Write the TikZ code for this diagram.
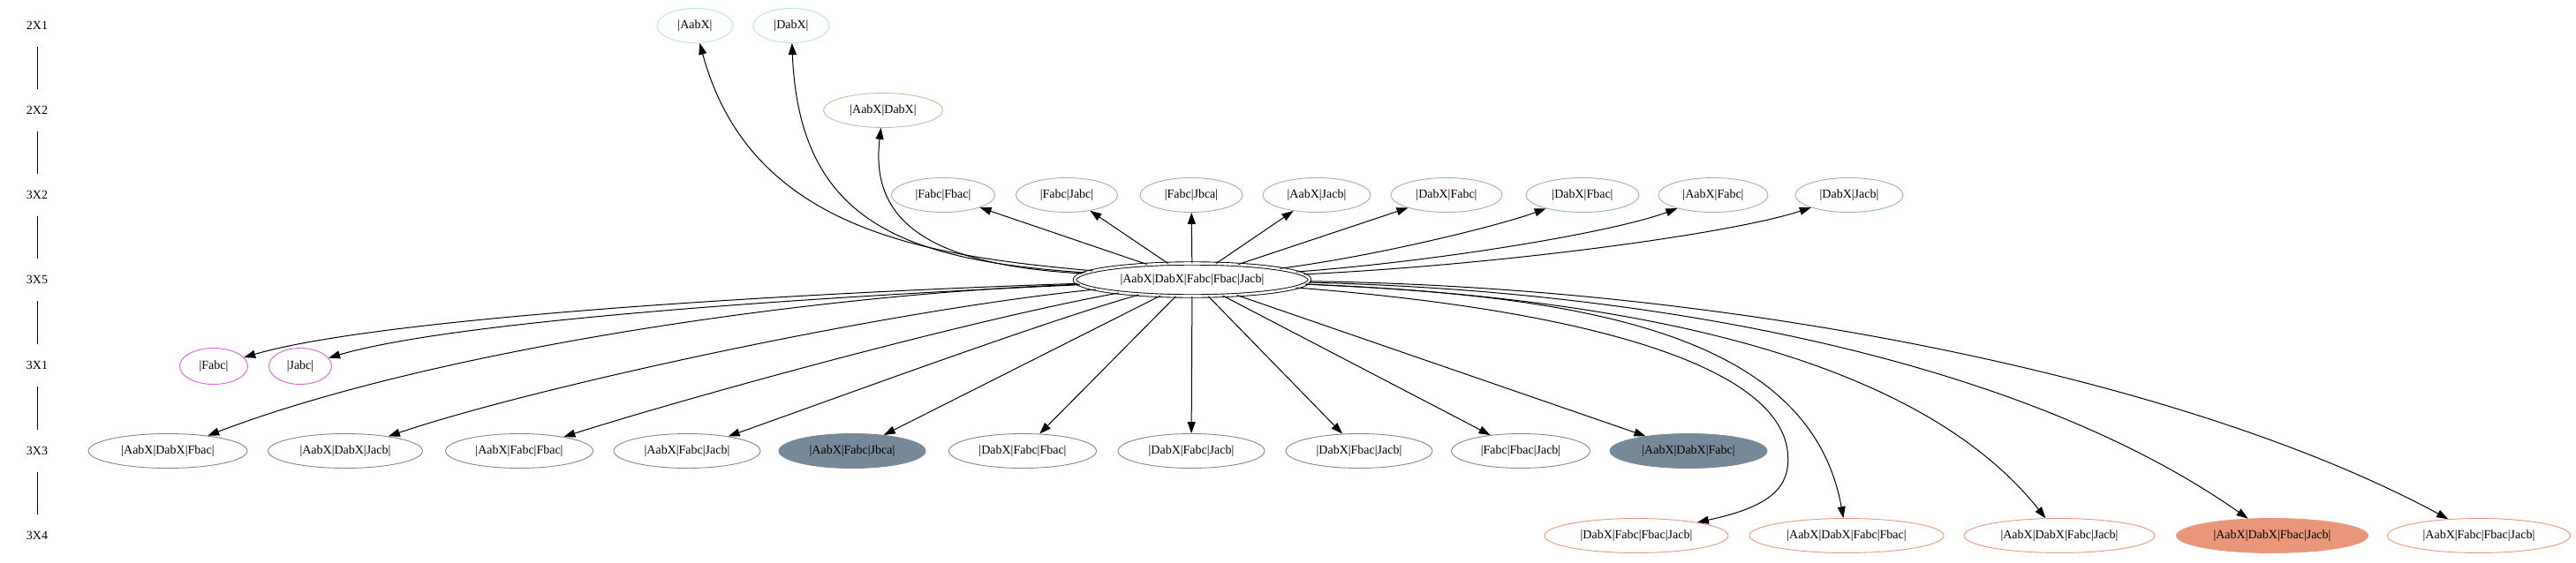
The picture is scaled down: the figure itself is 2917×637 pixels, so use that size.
\documentclass[tikz,border=0pt]{standalone}
\usepackage{fontspec}
\setmainfont{Liberation Serif}
\usetikzlibrary{shapes.geometric,arrows.meta}
\definecolor{cyanb}{HTML}{B4E2E8}
\definecolor{tanb}{HTML}{CDB79E}
\definecolor{greenb}{HTML}{8FBC8F}
\definecolor{magb}{HTML}{DA5FDA}
\definecolor{slateb}{HTML}{778899}
\definecolor{salmonb}{HTML}{E9967A}
\tikzset{
  txt/.style={font=\fontsize{14}{16}\selectfont},
  lbl/.style={txt, inner sep=0pt, minimum height=48pt},
  st/.style={txt, ellipse, draw, line width=0.9pt, inner sep=0pt, minimum height=39pt},
  cy/.style={st, draw=cyanb},
  tn/.style={st, draw=tanb},
  gr/.style={st, draw=greenb},
  mg/.style={st, draw=magb, minimum height=41pt},
  sl/.style={st, draw=slateb},
  slf/.style={st, draw=slateb, fill=slateb},
  sa/.style={st, draw=salmonb},
  saf/.style={st, draw=salmonb, fill=salmonb},
  ctr/.style={txt, ellipse, draw=black, line width=0.9pt, double, double distance=2.6pt, inner sep=0pt, minimum width=266pt, minimum height=37pt},
  arr/.style={draw=black, line width=1pt, -{Triangle[length=13pt,width=9pt]}},
  rankline/.style={draw=black, line width=1pt}
}
\begin{document}
\begin{tikzpicture}[x=1pt,y=-1pt]
\useasboundingbox (0,0) rectangle (2917,637);
% rank labels
\node[lbl] (L1) at (42,29) {2X1};
\node[lbl] (L2) at (42,125) {2X2};
\node[lbl] (L3) at (42,221) {3X2};
\node[lbl] (L4) at (42,317) {3X5};
\node[lbl] (L5) at (42,414) {3X1};
\node[lbl] (L6) at (42,511) {3X3};
\node[lbl] (L7) at (42,607) {3X4};
\draw[rankline] (L1) -- (L2);
\draw[rankline] (L2) -- (L3);
\draw[rankline] (L3) -- (L4);
\draw[rankline] (L4) -- (L5);
\draw[rankline] (L5) -- (L6);
\draw[rankline] (L6) -- (L7);
% 2X1
\node[cy, minimum width=86pt] (a1) at (787,29) {|AabX|};
\node[cy, minimum width=86pt] (a2) at (896,29) {|DabX|};
% 2X2
\node[tn, minimum width=135pt] (b1) at (1000,125) {|AabX|DabX|};
% 3X2
\node[gr, minimum width=117pt] (g1) at (1068,221) {|Fabc|Fbac|};
\node[gr, minimum width=115pt] (g2) at (1208,221) {|Fabc|Jabc|};
\node[gr, minimum width=116pt] (g3) at (1349,221) {|Fabc|Jbca|};
\node[gr, minimum width=122pt] (g4) at (1491,221) {|AabX|Jacb|};
\node[gr, minimum width=126pt] (g5) at (1638,221) {|DabX|Fabc|};
\node[gr, minimum width=128pt] (g6) at (1792,221) {|DabX|Fbac|};
\node[gr, minimum width=124pt] (g7) at (1940,221) {|AabX|Fabc|};
\node[gr, minimum width=122pt] (g8) at (2094,221) {|DabX|Jacb|};
% 3X5
\node[ctr] (C) at (1350,317) {|AabX|DabX|Fabc|Fbac|Jacb|};
% 3X1
\node[mg, minimum width=77pt] (m1) at (242,415) {|Fabc|};
\node[mg, minimum width=71pt] (m2) at (340,415) {|Jabc|};
% 3X3
\node[sl, minimum width=180pt] (s1) at (190,511) {|AabX|DabX|Fbac|};
\node[sl, minimum width=175pt] (s2) at (391,511) {|AabX|DabX|Jacb|};
\node[sl, minimum width=167pt] (s3) at (588,511) {|AabX|Fabc|Fbac|};
\node[sl, minimum width=166pt] (s4) at (778,511) {|AabX|Fabc|Jacb|};
\node[slf, minimum width=166pt] (s5) at (965,511) {|AabX|Fabc|Jbca|};
\node[sl, minimum width=167pt] (s6) at (1158,511) {|DabX|Fabc|Fbac|};
\node[sl, minimum width=166pt] (s7) at (1349,511) {|DabX|Fabc|Jacb|};
\node[sl, minimum width=166pt] (s8) at (1539,511) {|DabX|Fbac|Jacb|};
\node[sl, minimum width=157pt] (s9) at (1722,511) {|Fabc|Fbac|Jacb|};
\node[slf, minimum width=178pt] (s10) at (1912,511) {|AabX|DabX|Fabc|};
% 3X4
\node[sa, minimum width=208pt] (o1) at (1853,607) {|DabX|Fabc|Fbac|Jacb|};
\node[sa, minimum width=220pt] (o2) at (2091,607) {|AabX|DabX|Fabc|Fbac|};
\node[sa, minimum width=216pt] (o3) at (2332,607) {|AabX|DabX|Fabc|Jacb|};
\node[saf, minimum width=217pt] (o4) at (2573,607) {|AabX|DabX|Fbac|Jacb|};
\node[sa, minimum width=207pt] (o5) at (2807,607) {|AabX|Fabc|Fbac|Jacb|};
% edges up
\draw[arr] (C) .. controls (1050,290) and (850,262) .. (a1);
\draw[arr] (C) .. controls (1020,295) and (905,250) .. (a2);
\draw[arr] (C) .. controls (1050,300) and (985,250) .. (b1);
\draw[arr] (C) -- (g1);
\draw[arr] (C) -- (g2);
\draw[arr] (C) -- (g3);
\draw[arr] (C) -- (g4);
\draw[arr] (C) -- (g5);
\draw[arr] (C) .. controls (1560,290) and (1700,255) .. (g6);
\draw[arr] (C) .. controls (1640,295) and (1830,262) .. (g7);
\draw[arr] (C) .. controls (1700,300) and (1960,265) .. (g8);
% edges to 3X1
\draw[arr] (C) .. controls (900,332) and (430,360) .. (m1);
\draw[arr] (C) .. controls (950,335) and (520,362) .. (m2);
% edges to 3X3
\draw[arr] (C) .. controls (900,335) and (480,400) .. (s1);
\draw[arr] (C) .. controls (1000,352) and (600,440) .. (s2);
\draw[arr] (C) .. controls (1100,362) and (780,450) .. (s3);
\draw[arr] (C) .. controls (1180,365) and (950,450) .. (s4);
\draw[arr] (C) -- (s5);
\draw[arr] (C) -- (s6);
\draw[arr] (C) -- (s7);
\draw[arr] (C) -- (s8);
\draw[arr] (C) -- (s9);
\draw[arr] (C) -- (s10);
% edges to 3X4
\draw[arr] (C) .. controls (1780,350) and (2010,410) .. (2024,510) .. controls (2030,555) and (2000,575) .. (o1);
\draw[arr] (C) .. controls (1800,335) and (2050,380) .. (o2);
\draw[arr] (C) .. controls (1800,335) and (2160,390) .. (o3);
\draw[arr] (C) .. controls (1900,330) and (2300,415) .. (o4);
\draw[arr] (C) .. controls (1950,325) and (2470,425) .. (o5);
\end{tikzpicture}
\end{document}
